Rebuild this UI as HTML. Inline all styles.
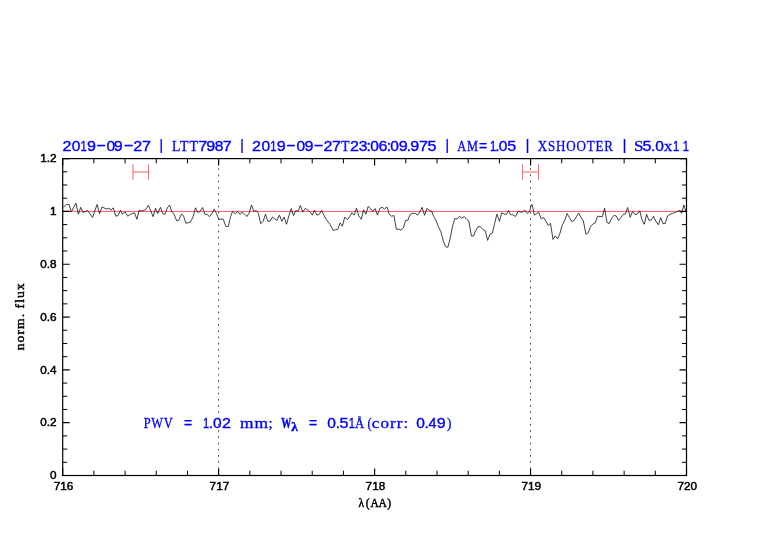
<!DOCTYPE html>
<html><head><meta charset="utf-8"><title>plot</title>
<style>
html,body{margin:0;padding:0;background:#fff;}
svg{display:block;will-change:transform}
.ax{stroke:#000;stroke-width:1.2;fill:none;stroke-linecap:butt}
.tl{font-family:"Liberation Sans",sans-serif;font-size:10.3px;fill:#000;stroke:#000;stroke-width:0.45}
.ser{font-family:"Liberation Serif",serif;fill:#000;stroke:#000;stroke-width:0.45}
.bs{font-family:"Liberation Sans",sans-serif;font-size:14px;fill:#0000ff;stroke:#0000ff;stroke-width:0.35}
.bb{font-family:"Liberation Sans",sans-serif;font-size:15.5px;fill:#0000ff;stroke:#0000ff;stroke-width:0.2}
.bw{font-family:"Liberation Serif",serif;font-size:14.5px;font-weight:bold;fill:#0000ff;stroke:#0000ff;stroke-width:0.4}
.bl{font-family:"Liberation Serif",serif;font-size:13.5px;font-weight:bold;fill:#0000ff;stroke:#0000ff;stroke-width:0.4}
.bf{font-family:"Liberation Serif",serif;font-size:14.5px;fill:#0000ff;stroke:#0000ff;stroke-width:0.3}
</style></head><body>
<svg width="782" height="542" viewBox="0 0 782 542">
<rect width="782" height="542" fill="#fff"/>

<line x1="218.6" y1="475.5" x2="218.6" y2="158.6" stroke="#000" stroke-width="0.75" stroke-dasharray="1.6 4.635" stroke-dashoffset="-0.1"/>
<line x1="530.5" y1="475.5" x2="530.5" y2="158.6" stroke="#000" stroke-width="0.75" stroke-dasharray="1.6 4.635" stroke-dashoffset="-0.1"/>
<line x1="62.7" y1="211.4" x2="686.5" y2="211.4" stroke="#ff1010" stroke-width="0.7"/>
<polyline points="63.5,207.3 66.3,204.4 69.0,204.4 71.3,211.9 75.9,203.2 78.4,214.2 80.7,207.3 83.0,212.4 87.6,210.5 92.5,217.4 97.1,204.4 99.5,213.6 102.0,207.0 106.6,209.0 108.9,208.2 111.2,210.1 113.3,207.8 115.8,216.2 118.1,215.5 120.4,210.4 122.7,214.2 125.0,211.6 127.7,216.2 130.2,214.4 134.6,212.8 136.9,219.3 139.2,210.1 141.1,211.1 145.7,209.6 148.4,205.3 150.0,209.0 153.1,216.7 155.5,208.2 157.8,213.6 160.4,207.3 162.7,213.6 165.0,214.5 167.3,207.8 169.6,205.2 171.9,212.1 173.9,213.9 176.7,220.8 178.8,220.2 181.3,214.2 183.4,215.5 186.0,223.4 188.3,222.5 190.3,222.2 192.8,217.6 195.5,207.8 197.8,212.4 200.1,211.3 202.6,207.5 204.9,214.2 207.2,214.5 209.5,216.7 211.8,213.6 214.2,209.2 216.5,213.6 218.8,219.3 223.1,219.0 226.0,226.6 228.3,226.5 230.6,216.5 232.6,211.3 235.2,213.9 237.7,211.6 240.0,214.5 242.1,212.1 244.4,213.9 246.9,216.5 249.2,213.0 251.5,205.0 253.8,211.1 256.3,210.7 258.4,213.4 260.7,223.7 263.0,221.6 265.5,214.2 267.9,221.3 270.2,221.1 272.5,217.0 274.8,219.0 277.1,220.3 279.5,215.1 281.8,221.3 284.1,217.0 286.5,224.3 288.9,215.9 291.2,208.6 293.5,215.5 295.8,210.7 298.1,211.1 300.4,205.5 302.7,212.1 305.3,208.4 307.7,210.1 310.0,211.9 312.3,215.1 314.6,210.1 316.9,215.1 319.2,214.4 321.7,210.4 324.0,215.5 326.3,219.3 328.6,222.5 330.0,224.3 333.2,230.5 335.5,229.7 337.8,229.4 340.1,222.8 342.4,226.3 344.7,217.0 347.3,219.7 349.6,216.7 351.9,212.8 354.2,215.1 356.5,208.2 358.8,215.9 361.3,219.3 363.6,209.8 365.9,214.2 368.2,206.3 370.5,208.6 372.8,211.3 375.1,208.6 377.5,215.1 379.8,208.4 382.1,207.3 384.4,209.0 387.0,207.0 389.3,214.4 391.6,216.2 393.9,215.5 396.4,229.4 398.7,229.1 401.0,230.1 403.3,228.0 405.6,220.5 407.9,220.2 410.2,214.4 412.5,213.4 415.2,213.4 417.5,215.1 420.0,211.6 422.1,207.3 424.6,215.3 426.9,208.4 429.2,210.1 431.5,211.1 433.8,216.5 436.1,220.8 438.4,226.6 440.9,231.7 443.2,240.6 445.5,246.6 447.9,247.3 450.2,238.3 452.5,226.3 454.8,218.5 457.1,219.0 459.5,216.2 461.8,218.2 464.3,216.7 466.6,219.3 468.9,221.1 471.4,236.0 473.5,236.0 475.8,230.3 478.1,226.8 480.4,226.6 483.0,229.7 485.3,230.9 487.6,240.4 490.0,234.3 492.3,233.2 494.6,223.6 496.9,214.2 499.4,221.3 501.7,212.8 504.0,213.9 506.3,214.4 508.6,210.5 510.0,214.2 511.7,214.7 513.5,215.1 515.5,216.5 518.1,211.3 520.4,212.1 522.4,211.9 524.7,210.1 527.5,213.4 529.6,211.3 531.3,204.7 532.2,204.7 534.4,215.1 536.7,213.6 538.8,212.4 541.3,219.0 543.6,217.4 545.9,221.3 548.2,225.4 550.5,223.4 553.0,239.5 555.3,235.8 557.6,238.9 559.9,233.5 562.3,224.9 564.6,220.8 567.1,213.6 569.4,217.6 571.8,221.6 574.1,220.5 576.4,216.7 578.7,213.0 581.0,217.4 583.3,220.8 586.0,234.3 588.3,232.6 590.6,226.3 592.9,224.0 595.2,222.8 597.5,216.2 600.0,216.5 602.3,216.7 604.6,208.2 606.9,222.2 609.2,223.7 611.5,218.5 613.8,215.5 616.1,215.9 618.6,220.5 620.9,217.6 623.2,214.4 625.5,213.9 627.6,207.5 630.2,217.3 632.5,211.5 634.8,214.4 637.1,214.2 639.7,210.7 642.0,219.9 644.3,224.3 646.6,214.4 648.9,220.2 651.2,220.2 653.5,216.2 655.8,221.1 658.4,224.8 660.7,217.6 663.0,223.6 665.3,223.4 667.6,215.9 669.9,214.4 672.2,213.4 674.8,212.8 677.1,211.6 679.4,210.5 681.7,213.2 683.8,205.0 685.7,210.7 686.5,213.0" fill="none" stroke="#111" stroke-width="0.8" stroke-linejoin="round"/>
<path d="M133.0 164.2V179.8M148.5 164.2V179.8M133.0 172H148.5" stroke="#ff5050" stroke-width="0.9" fill="none"/>
<path d="M522.6 164.2V179.8M538.5 164.2V179.8M522.6 172H538.5" stroke="#ff5050" stroke-width="0.9" fill="none"/>
<path class="ax" style="stroke-width:1" d="M93.89 475.5v-4.8M93.89 158.6v4.8M125.08 475.5v-4.8M125.08 158.6v4.8M156.27 475.5v-4.8M156.27 158.6v4.8M187.46 475.5v-4.8M187.46 158.6v4.8M249.84 475.5v-4.8M249.84 158.6v4.8M281.03 475.5v-4.8M281.03 158.6v4.8M312.22 475.5v-4.8M312.22 158.6v4.8M343.41 475.5v-4.8M343.41 158.6v4.8M405.79 475.5v-4.8M405.79 158.6v4.8M436.98 475.5v-4.8M436.98 158.6v4.8M468.17 475.5v-4.8M468.17 158.6v4.8M499.36 475.5v-4.8M499.36 158.6v4.8M561.74 475.5v-4.8M561.74 158.6v4.8M592.93 475.5v-4.8M592.93 158.6v4.8M624.12 475.5v-4.8M624.12 158.6v4.8M655.31 475.5v-4.8M655.31 158.6v4.8M62.7 462.30h4.6M686.5 462.30h-4.6M62.7 449.09h4.6M686.5 449.09h-4.6M62.7 435.89h4.6M686.5 435.89h-4.6M62.7 409.48h4.6M686.5 409.48h-4.6M62.7 396.27h4.6M686.5 396.27h-4.6M62.7 383.07h4.6M686.5 383.07h-4.6M62.7 356.66h4.6M686.5 356.66h-4.6M62.7 343.46h4.6M686.5 343.46h-4.6M62.7 330.25h4.6M686.5 330.25h-4.6M62.7 303.85h4.6M686.5 303.85h-4.6M62.7 290.64h4.6M686.5 290.64h-4.6M62.7 277.44h4.6M686.5 277.44h-4.6M62.7 251.03h4.6M686.5 251.03h-4.6M62.7 237.83h4.6M686.5 237.83h-4.6M62.7 224.62h4.6M686.5 224.62h-4.6M62.7 198.21h4.6M686.5 198.21h-4.6M62.7 185.01h4.6M686.5 185.01h-4.6M62.7 171.80h4.6M686.5 171.80h-4.6"/>
<path class="ax" style="stroke-width:1.15" d="M62.70 475.5v-7M62.70 158.6v7M218.65 475.5v-7M218.65 158.6v7M374.60 475.5v-7M374.60 158.6v7M530.55 475.5v-7M530.55 158.6v7M686.50 475.5v-7M686.50 158.6v7M62.7 475.50h7M686.5 475.50h-7M62.7 422.68h7M686.5 422.68h-7M62.7 369.87h7M686.5 369.87h-7M62.7 317.05h7M686.5 317.05h-7M62.7 264.23h7M686.5 264.23h-7M62.7 211.42h7M686.5 211.42h-7M62.7 158.60h7M686.5 158.60h-7"/>
<rect class="ax" x="62.7" y="158.6" width="623.8" height="316.9"/>
<text class="tl" transform="translate(63.5 490.4) scale(1.14 1)" text-anchor="middle">716</text>
<text class="tl" transform="translate(219.4 490.4) scale(1.14 1)" text-anchor="middle">717</text>
<text class="tl" transform="translate(375.4 490.4) scale(1.14 1)" text-anchor="middle">718</text>
<text class="tl" transform="translate(531.3 490.4) scale(1.14 1)" text-anchor="middle">719</text>
<text class="tl" transform="translate(687.3 490.4) scale(1.14 1)" text-anchor="middle">720</text>
<text class="tl" transform="translate(56.5 479.2) scale(1.14 1)" text-anchor="end">0</text>
<text class="tl" transform="translate(56.5 426.4) scale(1.14 1)" text-anchor="end">0.2</text>
<text class="tl" transform="translate(56.5 373.6) scale(1.14 1)" text-anchor="end">0.4</text>
<text class="tl" transform="translate(56.5 320.8) scale(1.14 1)" text-anchor="end">0.6</text>
<text class="tl" transform="translate(56.5 267.9) scale(1.14 1)" text-anchor="end">0.8</text>
<text class="tl" transform="translate(56.5 215.1) scale(1.14 1)" text-anchor="end">1</text>
<text class="tl" transform="translate(56.5 162.3) scale(1.14 1)" text-anchor="end">1.2</text>
<text class="ser" font-size="11.5" x="358.6" y="507">λ<tspan dx="1.5">(</tspan><tspan dx="0.9">A</tspan><tspan dx="-0.3">A</tspan><tspan dx="0.6">)</tspan></text>
<text class="ser" font-size="13.5" transform="translate(24 350.3) rotate(-90)" textLength="67" lengthAdjust="spacing" xml:space="preserve">norm. flux</text>
<g><text class="bs" transform="translate(62.39 150.6) scale(1.150 1)">2</text><text class="bs" transform="translate(71.78 150.6) scale(1.111 1)">0</text><text class="bs" transform="translate(80.57 150.6) scale(0.800 1)">1</text><text class="bs" transform="translate(87.05 150.6) scale(1.150 1)">9</text><text class="bs" transform="translate(96.34 149.8) scale(2.114 1)">-</text><text class="bs" transform="translate(106.44 150.6) scale(1.111 1)">0</text><text class="bs" transform="translate(113.85 150.6) scale(1.150 1)">9</text><text class="bs" transform="translate(123.51 149.8) scale(2.171 1)">-</text><text class="bs" transform="translate(133.29 150.6) scale(1.150 1)">2</text><text class="bs" transform="translate(141.89 150.6) scale(1.150 1)">7 </text><text class="bb" x="159.30" y="149.7">| </text><text class="bf" transform="translate(172.12 150.6) scale(0.951 1)" letter-spacing="0.900">LTT</text><text class="bs" transform="translate(198.19 150.6) scale(1.150 1)">7</text><text class="bs" transform="translate(206.25 150.6) scale(1.150 1)">9</text><text class="bs" transform="translate(214.74 150.6) scale(1.111 1)">8</text><text class="bs" transform="translate(222.79 150.6) scale(1.150 1)">7 </text><text class="bb" x="240.00" y="149.7">| </text><text class="bs" transform="translate(252.09 150.6) scale(1.150 1)">2</text><text class="bs" transform="translate(261.48 150.6) scale(1.111 1)">0</text><text class="bs" transform="translate(270.27 150.6) scale(0.800 1)">1</text><text class="bs" transform="translate(276.75 150.6) scale(1.150 1)">9</text><text class="bs" transform="translate(286.04 149.8) scale(2.114 1)">-</text><text class="bs" transform="translate(296.44 150.6) scale(1.111 1)">0</text><text class="bs" transform="translate(304.55 150.6) scale(1.150 1)">9</text><text class="bs" transform="translate(313.50 149.8) scale(2.200 1)">-</text><text class="bs" transform="translate(323.59 150.6) scale(1.150 1)">2</text><text class="bs" transform="translate(331.99 150.6) scale(1.150 1)">7</text><text class="bf" transform="translate(341.27 150.6) scale(0.929 1)">T</text><text class="bs" transform="translate(349.99 150.6) scale(1.150 1)">2</text><text class="bs" transform="translate(358.78 150.6) scale(1.111 1)">3</text><text class="bs" transform="translate(366.62 150.6) scale(1.100 1)">:</text><text class="bs" transform="translate(370.25 150.6) scale(1.111 1)">0</text><text class="bs" transform="translate(378.60 150.6) scale(1.150 1)">6</text><text class="bs" transform="translate(386.73 150.6) scale(1.100 1)">:</text><text class="bs" transform="translate(390.36 150.6) scale(1.111 1)">0</text><text class="bs" transform="translate(398.70 150.6) scale(1.150 1)">9</text><text class="bs" transform="translate(406.84 150.6) scale(1.100 1)">.</text><text class="bs" transform="translate(410.18 150.6) scale(1.150 1)">9</text><text class="bs" transform="translate(418.96 150.6) scale(1.150 1)">7</text><text class="bs" transform="translate(427.45 150.6) scale(1.150 1)">5 </text><text class="bb" x="445.30" y="149.7">| </text><text class="bf" transform="translate(457.20 150.6) scale(0.854 1)" letter-spacing="0.900">AM</text><text class="bs" x="479.02" y="151.3">=</text><text class="bs" transform="translate(489.90 150.6) scale(0.800 1)">1</text><text class="bs" transform="translate(495.25 150.6) scale(1.100 1)">.</text><text class="bs" transform="translate(498.84 150.6) scale(1.111 1)">0</text><text class="bs" transform="translate(507.15 150.6) scale(1.150 1)">5 </text><text class="bb" x="525.50" y="149.7">| </text><text class="bf" transform="translate(537.77 150.6) scale(0.900 1)" letter-spacing="0.900">XSHOOTER </text><text class="bb" x="622.40" y="149.7">| </text><text class="bf" transform="translate(633.92 150.6) scale(1.184 1)">S</text><text class="bs" transform="translate(642.55 150.6) scale(1.150 1)">5</text><text class="bs" transform="translate(651.10 150.6) scale(1.100 1)">.</text><text class="bs" transform="translate(655.14 150.6) scale(1.111 1)">0</text><text class="bf" transform="translate(664.10 150.6) scale(1.143 1)">x</text><text class="bs" transform="translate(672.90 150.6) scale(0.800 1)">1</text><text class="bs" transform="translate(682.70 150.6) scale(0.800 1)">1</text></g>
<g><text class="bf" transform="translate(143.67 427.6) scale(0.856 1)" letter-spacing="0.900">PWV </text><text class="bs" x="184.02" y="428.3">= </text><text class="bs" transform="translate(202.90 427.6) scale(0.800 1)">1</text><text class="bs" transform="translate(208.82 427.6) scale(1.100 1)">.</text><text class="bs" transform="translate(212.98 427.6) scale(1.111 1)">0</text><text class="bs" transform="translate(221.99 427.6) scale(1.150 1)">2 </text><text class="bf" transform="translate(239.90 427.6) scale(1.200 1)" letter-spacing="1.000">mm</text><text class="bf" transform="translate(268.53 427.6) scale(1.022 1)">; </text><text class="bw" transform="translate(281.22 427.6) scale(0.700 1)">W</text><text class="bl" x="291.25" y="431.2">λ </text><text class="bs" x="308.98" y="428.3">= </text><text class="bs" transform="translate(327.24 427.6) scale(1.111 1)">0</text><text class="bs" transform="translate(335.68 427.6) scale(1.100 1)">.</text><text class="bs" transform="translate(339.62 427.6) scale(1.150 1)">5</text><text class="bs" transform="translate(348.70 427.6) scale(0.800 1)">1</text><text class="bf" transform="translate(355.10 427.6) scale(0.876 1)">Å</text><text class="bf" transform="translate(367.38 427.6) scale(0.850 1)">(</text><text class="bf" transform="translate(371.81 427.6) scale(1.175 1)" letter-spacing="0.900">corr: </text><text class="bs" transform="translate(416.34 427.6) scale(1.111 1)">0</text><text class="bs" transform="translate(424.38 427.6) scale(1.100 1)">.</text><text class="bs" transform="translate(428.51 427.6) scale(1.034 1)">4</text><text class="bs" transform="translate(436.75 427.6) scale(1.150 1)">9</text><text class="bf" transform="translate(446.95 427.6) scale(0.907 1)">)</text></g>
</svg></body></html>
